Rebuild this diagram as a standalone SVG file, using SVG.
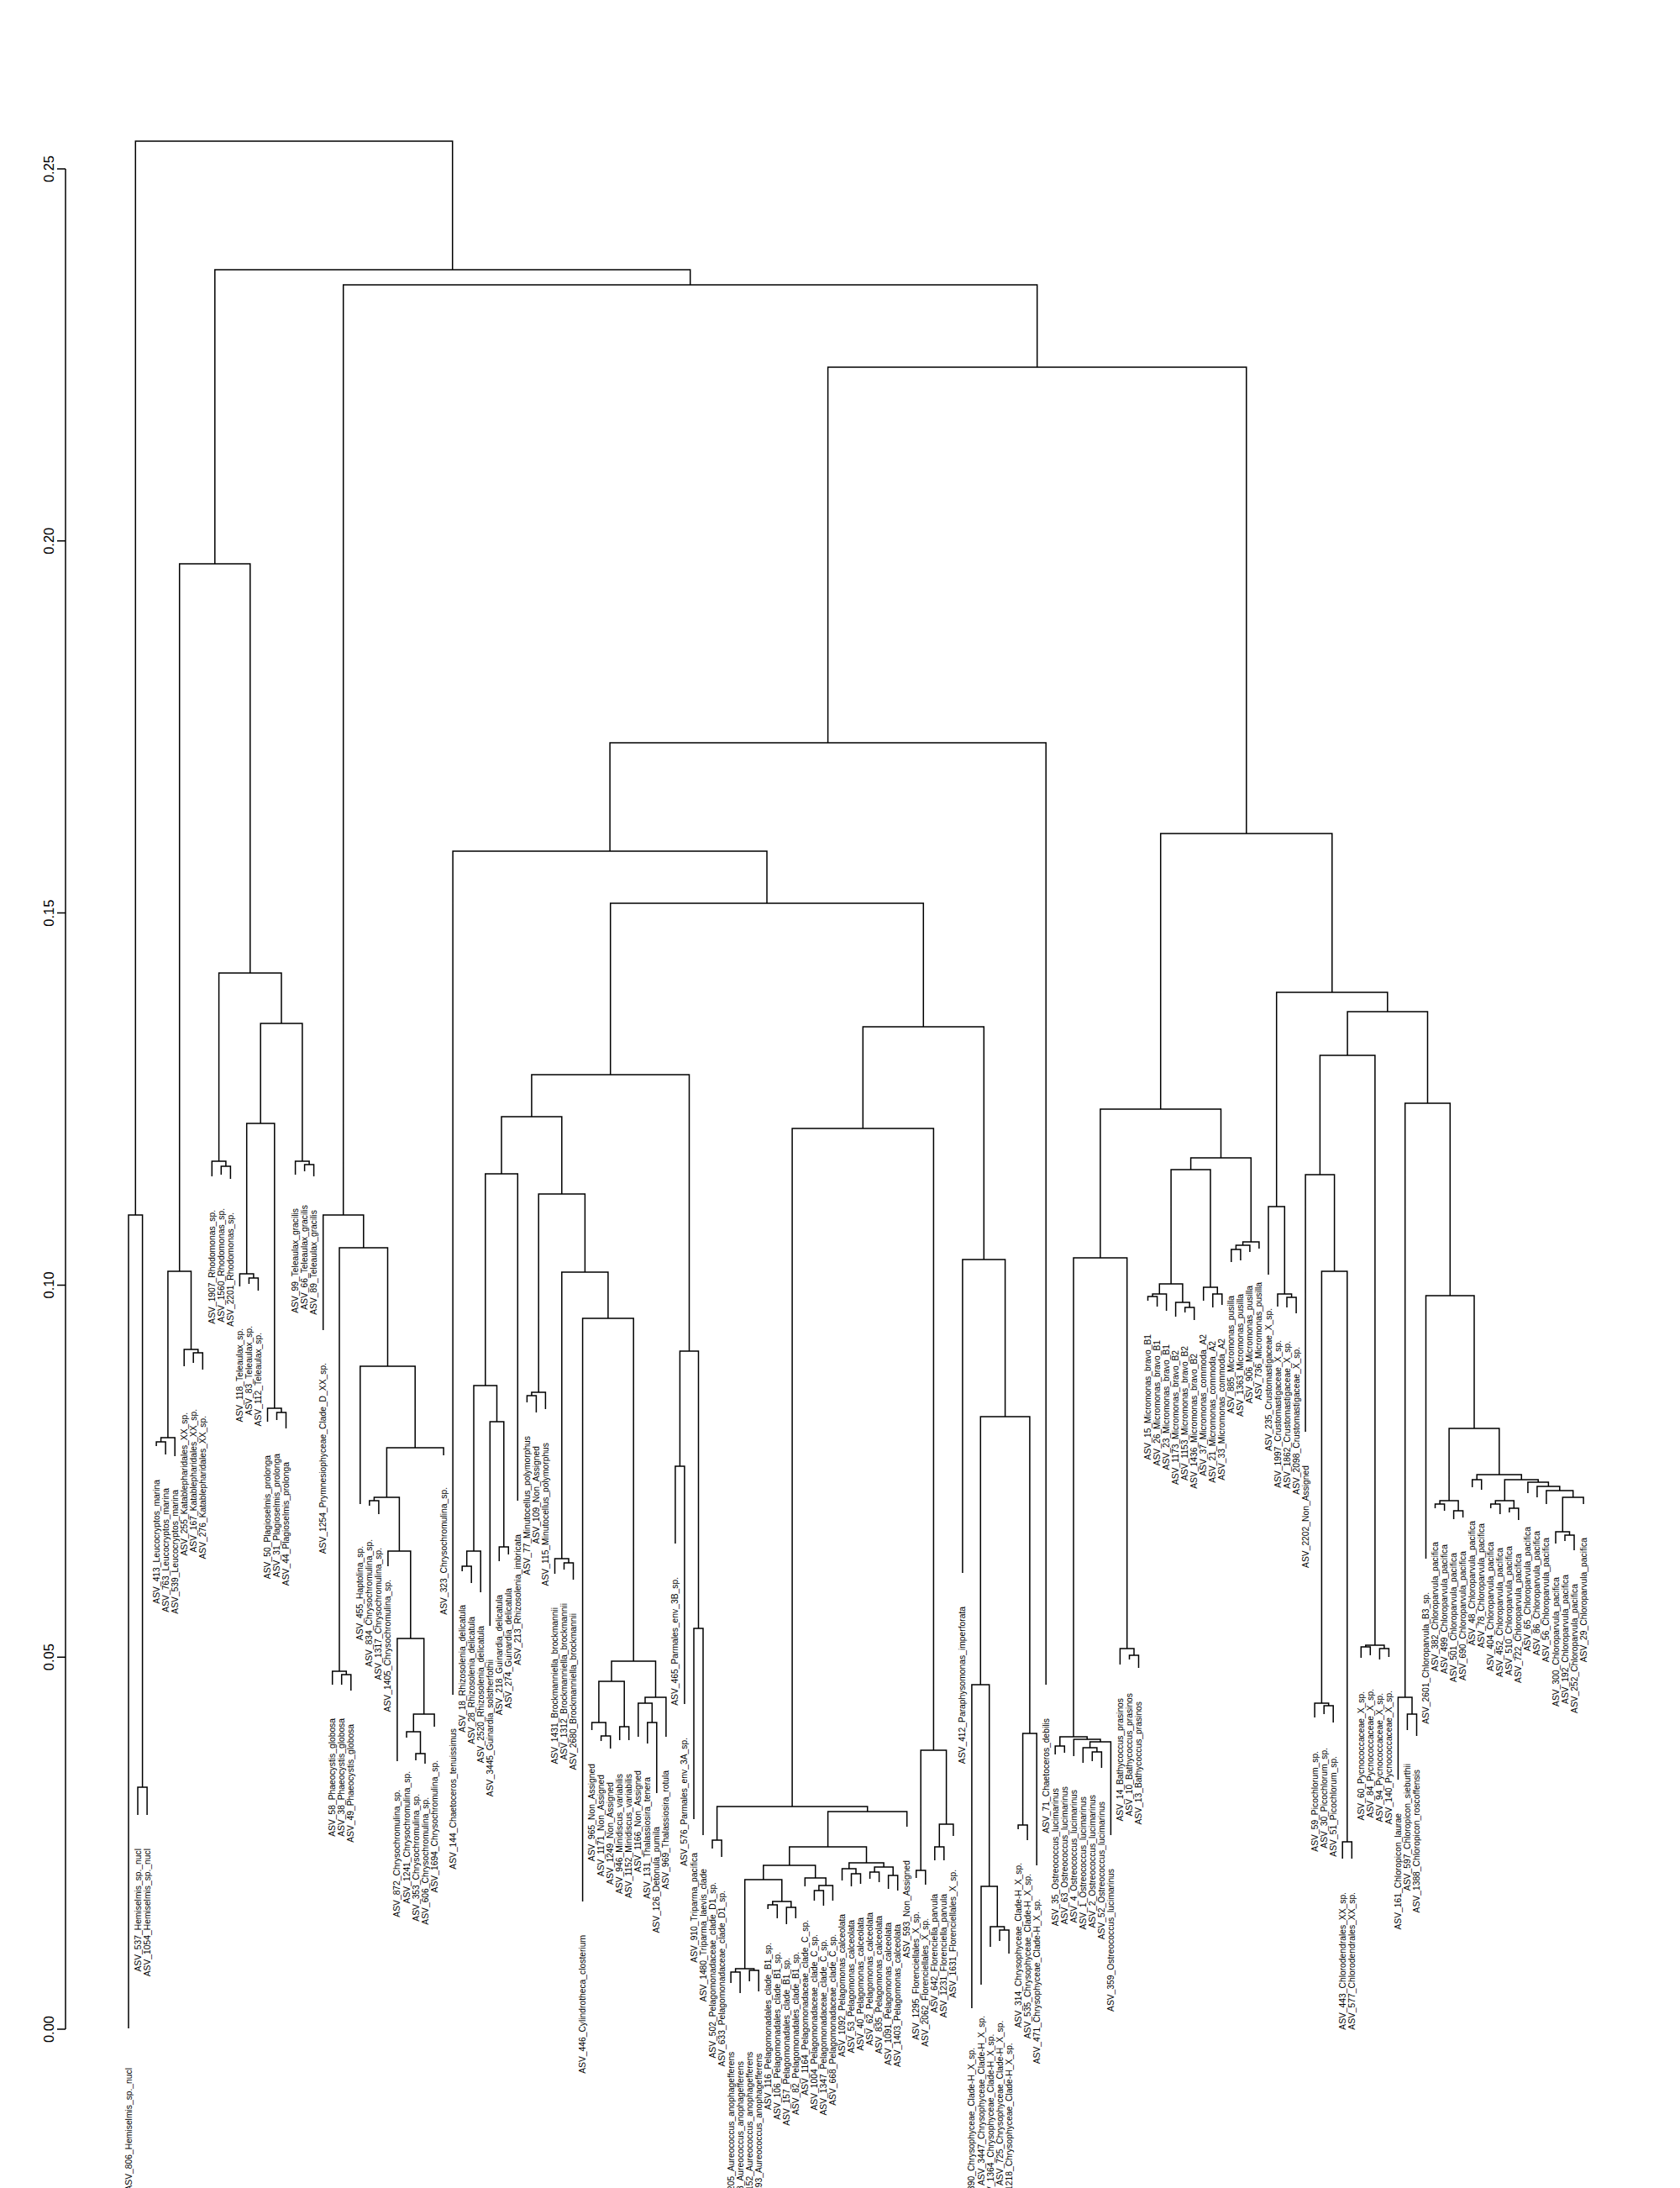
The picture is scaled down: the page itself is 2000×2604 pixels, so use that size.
<svg xmlns="http://www.w3.org/2000/svg" width="2000" height="2604" viewBox="0 0 2000 2604">
<style>
.c{fill:none;stroke:#000;stroke-width:1.5}
.a{fill:none;stroke:#000;stroke-width:1.5}
.l{font-family:"Liberation Sans",Arial,sans-serif;font-size:10.3px;text-anchor:end;dominant-baseline:central;fill:#000}
.s{text-anchor:start}
.t{font-family:"Liberation Sans",Arial,sans-serif;font-size:16.5px;text-anchor:middle;dominant-baseline:central;fill:#000}
</style>
<rect width="2000" height="2604" fill="#fff"/>
<g id="axis">
<path class="a" d="M78,201V2415M68,201H78M68,643.8H78M68,1086.6H78M68,1529.4H78M68,1972.2H78M68,2415H78"/>
<text class="t" transform="translate(58,201) rotate(-90)">0.25</text>
<text class="t" transform="translate(58,643.8) rotate(-90)">0.20</text>
<text class="t" transform="translate(58,1086.6) rotate(-90)">0.15</text>
<text class="t" transform="translate(58,1529.4) rotate(-90)">0.10</text>
<text class="t" transform="translate(58,1972.2) rotate(-90)">0.05</text>
<text class="t" transform="translate(58,2415) rotate(-90)">0.00</text>
</g>
<g id="connectors">
<path class="c" d="M164,2160V2127H175.1V2160M153,2414V1446H169.6V2127M161.3,1446V168H538.7V321M186.1,1721V1716H197.1V1731M191.6,1716V1711H208.2V1733M230.2,1622V1610H241.3V1630M219.2,1626V1606H235.8V1610M199.9,1711V1513H227.5V1606M263.3,1398V1388H274.4V1403M252.3,1400V1382H268.9V1388M296.4,1528V1521H307.4V1536M285.4,1531V1516H301.9V1521M329.5,1690V1681H340.5V1700M318.5,1692V1676H335V1681M293.7,1516V1337H326.8V1676M362.6,1394V1386H373.6V1400M351.6,1398V1382H368.1V1386M310.2,1337V1218H359.9V1382M260.6,1382V1158H335V1218M213.7,1513V671H297.8V1158M406.7,2005V1993H417.8V2012M395.7,2005V1989H412.3V1993M439.8,1792V1786H450.9V1802M495,2095V2087H506V2099M484,2068V2061H500.5V2087M492.3,2061V2040H517.1V2055M472.9,2096V1950H504.7V2040M461.9,1864V1846H488.8V1950M445.4,1786V1782H475.4V1846M460.4,1782V1723H528.1V1732M428.8,1790V1626H494.2V1723M404,1989V1485H461.5V1626M384.7,1583V1446H432.8V1485M408.7,1446V339H1234.7V437M255.8,671V321H821.7V339"/>
<path class="c" d="M550.2,1870V1864H561.2V1884M555.7,1864V1846H572.2V1895M594.3,1858V1841H605.3V1850M583.3,1935V1692H599.8V1841M564,1846V1649H591.5V1692M577.8,1649V1397H616.3V1786M627.4,1669V1661H638.4V1681M632.9,1661V1657H649.4V1677M671.5,1868V1860H682.5V1880M660.5,1873V1855H677V1860M715.6,2072V2066H726.7V2081M704.6,2059V2050H721.2V2066M737.7,2071V2055H748.7V2071M712.9,2050V2001H743.2V2055M770.8,2075V2050H781.8V2134M759.8,2067V2027H776.3V2050M768,2027V2020H792.9V2067M728,2001V1977H780.5V2020M693.6,2263V1569H754.2V1977M668.8,1855V1514H723.9V1569M641.2,1657V1421H696.4V1514M597,1397V1329H668.8V1421M803.9,1837V1745H814.9V2028M826,2165V1938H837V2184M809.4,1745V1608H831.5V1938M632.9,1329V1279H820.5V1608"/>
<path class="c" d="M848,2200V2190H859.1V2210M870.1,2360V2347H881.1V2372M892.2,2358V2345H903.2V2370M875.6,2347V2343H897.7V2345M914.2,2272V2267H925.3V2283M936.3,2290V2270H947.3V2283M919.8,2267V2263H941.8V2270M886.7,2343V2237H930.8V2263M969.4,2262V2250H980.4V2268M974.9,2250V2244H991.4V2262M958.3,2245V2235H983.2V2244M908.8,2237V2220H970.7V2235M1013.5,2245V2230H1024.5V2242M1002.5,2238V2224H1019V2230M1035.6,2236V2228H1046.6V2240M1057.6,2248V2232H1068.7V2250M1041.1,2228V2222H1063.2V2232M1010.8,2224V2217H1052.1V2222M939.8,2220V2198H1031.5V2217M985.6,2198V2156H1079.7V2174M853.6,2190V2150H1032.7V2156M1090.7,2235V2226H1101.8V2243M1112.8,2214V2198H1123.8V2214M1118.3,2198V2171H1134.9V2185M1096.2,2226V2083H1126.6V2171M943.1,2150V1343H1111.4V2083M1190,2310V2297H1201.1V2325M1179,2317V2293H1195.6V2297M1168,2362V2245H1187.3V2293M1156.9,2390V2005H1177.7V2245M1212.1,2177V2172H1223.1V2190M1217.6,2172V2063H1234.2V2220M1167.3,2005V1686H1225.9V2063M1145.9,1872V1499H1196.6V1686M1027.3,1343V1222H1171.3V1499M726.7,1279V1075H1099.3V1222M539.1,2017V1013H913V1075M726.1,1013V884H1245.2V2005"/>
<path class="c" d="M1256.2,2088V2078H1267.3V2086M1300.3,2096V2085H1311.4V2104M1289.3,2098V2080H1305.9V2085M1297.6,2080V2073H1322.4V2184M1278.3,2090V2070H1310V2073M1261.8,2078V2067H1294.2V2070M1344.5,1975V1970H1355.5V1985M1333.4,1981V1962H1350V1970M1278,2067V1497H1341.7V1962M1366.5,1548V1543H1377.6V1555M1372.1,1543V1540H1388.6V1560M1410.7,1562V1556H1421.7V1571M1399.6,1567V1550H1416.2V1556M1380.3,1540V1528H1407.9V1550M1443.8,1556V1540H1454.8V1553M1432.7,1548V1532H1449.3V1540M1394.1,1528V1392H1441V1532M1465.8,1502V1487H1476.9V1500M1471.4,1487V1482H1487.9V1490M1479.6,1482V1478H1498.9V1486M1417.6,1392V1378H1489.3V1478M1309.9,1497V1320H1453.5V1378M1532,1556V1544H1543.1V1563M1521,1555V1540H1537.6V1544M1510,1517V1436H1529.3V1540M1576.2,2040V2030H1587.2V2050M1565.1,2044V2027H1581.7V2030M1598.2,2212V2192H1609.3V2212M1573.4,2027V1513H1603.8V2192M1554.1,1704V1398H1588.6V1513M1620.3,1973V1960H1631.3V1970M1642.4,1975V1962H1653.4V1972M1625.8,1960V1958H1647.9V1962M1571.4,1398V1256H1636.9V1958M1675.4,2059V2040H1686.5V2066M1664.4,2118V2020H1681V2040M1708.5,1795V1790H1719.6V1798M1730.6,1808V1798H1741.6V1806M1714.1,1790V1786H1736.1V1798M1752.7,1770V1761H1763.7V1773M1774.7,1795V1790H1785.8V1802M1796.8,1800V1795H1807.8V1809M1780.3,1790V1786H1802.3V1795M1863,1834V1827H1874V1845M1852,1837V1823H1868.5V1827M1860.3,1823V1782H1885.1V1790M1840.9,1790V1774H1872.7V1782M1829.9,1782V1769H1856.8V1774M1818.9,1777V1764H1843.4V1769M1791.3,1786V1761H1831.2V1764M1758.2,1761V1755H1811.3V1761M1725.1,1786V1700H1784.8V1755M1697.5,1855V1542H1755V1700M1672.7,2020V1313H1726.3V1542M1604.1,1256V1204H1699.5V1313M1519.7,1436V1181H1651.8V1204M1381.7,1320V992H1585.8V1181M985.6,884V437H1483.8V992"/>
</g>
<g id="leaf-1"><text class="l" transform="translate(153,2461) rotate(-90)">ASV_806_Hemiselmis_sp._nucl</text></g>
<g id="leaf-2"><text class="l" transform="translate(164,2200) rotate(-90)">ASV_537_Hemiselmis_sp._nucl</text></g>
<g id="leaf-3"><text class="l" transform="translate(175.1,2200) rotate(-90)">ASV_1054_Hemiselmis_sp._nucl</text></g>
<g id="leaf-4"><text class="l" transform="translate(186.1,1761) rotate(-90)">ASV_413_Leucocryptos_marina</text></g>
<g id="leaf-5"><text class="l" transform="translate(197.1,1771) rotate(-90)">ASV_763_Leucocryptos_marina</text></g>
<g id="leaf-6"><text class="l" transform="translate(208.2,1773) rotate(-90)">ASV_539_Leucocryptos_marina</text></g>
<g id="leaf-7"><text class="l" transform="translate(219.2,1681) rotate(-90)">ASV_255_Katablepharidales_XX_sp.</text></g>
<g id="leaf-8"><text class="l" transform="translate(230.2,1677) rotate(-90)">ASV_167_Katablepharidales_XX_sp.</text></g>
<g id="leaf-9"><text class="l" transform="translate(241.3,1685) rotate(-90)">ASV_276_Katablepharidales_XX_sp.</text></g>
<g id="leaf-10"><text class="l" transform="translate(252.3,1440) rotate(-90)">ASV_1907_Rhodomonas_sp.</text></g>
<g id="leaf-11"><text class="l" transform="translate(263.3,1438) rotate(-90)">ASV_1560_Rhodomonas_sp.</text></g>
<g id="leaf-12"><text class="l" transform="translate(274.4,1443) rotate(-90)">ASV_2201_Rhodomonas_sp.</text></g>
<g id="leaf-13"><text class="l" transform="translate(285.4,1581) rotate(-90)">ASV_118_Teleaulax_sp.</text></g>
<g id="leaf-14"><text class="l" transform="translate(296.4,1578) rotate(-90)">ASV_83_Teleaulax_sp.</text></g>
<g id="leaf-15"><text class="l" transform="translate(307.4,1586) rotate(-90)">ASV_112_Teleaulax_sp.</text></g>
<g id="leaf-16"><text class="l" transform="translate(318.5,1732) rotate(-90)">ASV_50_Plagioselmis_prolonga</text></g>
<g id="leaf-17"><text class="l" transform="translate(329.5,1730) rotate(-90)">ASV_31_Plagioselmis_prolonga</text></g>
<g id="leaf-18"><text class="l" transform="translate(340.5,1740) rotate(-90)">ASV_44_Plagioselmis_prolonga</text></g>
<g id="leaf-19"><text class="l" transform="translate(351.6,1438) rotate(-90)">ASV_99_Teleaulax_gracilis</text></g>
<g id="leaf-20"><text class="l" transform="translate(362.6,1434) rotate(-90)">ASV_66_Teleaulax_gracilis</text></g>
<g id="leaf-21"><text class="l" transform="translate(373.6,1440) rotate(-90)">ASV_89_Teleaulax_gracilis</text></g>
<g id="leaf-22"><text class="l" transform="translate(384.7,1622) rotate(-90)">ASV_1254_Prymnesiophyceae_Clade_D_XX_sp.</text></g>
<g id="leaf-23"><text class="l" transform="translate(395.7,2045) rotate(-90)">ASV_58_Phaeocystis_globosa</text></g>
<g id="leaf-24"><text class="l" transform="translate(406.7,2045) rotate(-90)">ASV_38_Phaeocystis_globosa</text></g>
<g id="leaf-25"><text class="l" transform="translate(417.8,2052) rotate(-90)">ASV_49_Phaeocystis_globosa</text></g>
<g id="leaf-26"><text class="l" transform="translate(428.8,1840) rotate(-90)">ASV_455_Haptolina_sp.</text></g>
<g id="leaf-27"><text class="l" transform="translate(439.8,1832) rotate(-90)">ASV_834_Chrysochromulina_sp.</text></g>
<g id="leaf-28"><text class="l" transform="translate(450.9,1842) rotate(-90)">ASV_1317_Chrysochromulina_sp.</text></g>
<g id="leaf-29"><text class="l" transform="translate(461.9,1880) rotate(-90)">ASV_1405_Chrysochromulina_sp.</text></g>
<g id="leaf-30"><text class="l" transform="translate(472.9,2130) rotate(-90)">ASV_872_Chrysochromulina_sp.</text></g>
<g id="leaf-31"><text class="l" transform="translate(484,2108) rotate(-90)">ASV_1241_Chrysochromulina_sp.</text></g>
<g id="leaf-32"><text class="l" transform="translate(495,2135) rotate(-90)">ASV_353_Chrysochromulina_sp.</text></g>
<g id="leaf-33"><text class="l" transform="translate(506,2139) rotate(-90)">ASV_606_Chrysochromulina_sp.</text></g>
<g id="leaf-34"><text class="l" transform="translate(517.1,2095) rotate(-90)">ASV_1694_Chrysochromulina_sp.</text></g>
<g id="leaf-35"><text class="l" transform="translate(528.1,1770) rotate(-90)">ASV_323_Chrysochromulina_sp.</text></g>
<g id="leaf-36"><text class="l" transform="translate(539.1,2057) rotate(-90)">ASV_144_Chaetoceros_tenuissimus</text></g>
<g id="leaf-37"><text class="l" transform="translate(550.2,1910) rotate(-90)">ASV_18_Rhizosolenia_delicatula</text></g>
<g id="leaf-38"><text class="l" transform="translate(561.2,1924) rotate(-90)">ASV_28_Rhizosolenia_delicatula</text></g>
<g id="leaf-39"><text class="l" transform="translate(572.2,1935) rotate(-90)">ASV_2520_Rhizosolenia_delicatula</text></g>
<g id="leaf-40"><text class="l" transform="translate(583.3,1975) rotate(-90)">ASV_3445_Guinardia_solstherfothii</text></g>
<g id="leaf-41"><text class="l" transform="translate(594.3,1898) rotate(-90)">ASV_218_Guinardia_delicatula</text></g>
<g id="leaf-42"><text class="l" transform="translate(605.3,1890) rotate(-90)">ASV_274_Guinardia_delicatula</text></g>
<g id="leaf-43"><text class="l" transform="translate(616.3,1826) rotate(-90)">ASV_213_Rhizosolenia_imbricata</text></g>
<g id="leaf-44"><text class="l" transform="translate(627.4,1709) rotate(-90)">ASV_77_Minutocellus_polymorphus</text></g>
<g id="leaf-45"><text class="l" transform="translate(638.4,1721) rotate(-90)">ASV_109_Non_Assigned</text></g>
<g id="leaf-46"><text class="l" transform="translate(649.4,1717) rotate(-90)">ASV_115_Minutocellus_polymorphus</text></g>
<g id="leaf-47"><text class="l" transform="translate(660.5,1913) rotate(-90)">ASV_1431_Brockmanniella_brockmannii</text></g>
<g id="leaf-48"><text class="l" transform="translate(671.5,1908) rotate(-90)">ASV_1312_Brockmanniella_brockmannii</text></g>
<g id="leaf-49"><text class="l" transform="translate(682.5,1920) rotate(-90)">ASV_2680_Brockmanniella_brockmannii</text></g>
<g id="leaf-50"><text class="l" transform="translate(693.6,2303) rotate(-90)">ASV_446_Cylindrotheca_closterium</text></g>
<g id="leaf-51"><text class="l" transform="translate(704.6,2099) rotate(-90)">ASV_965_Non_Assigned</text></g>
<g id="leaf-52"><text class="l" transform="translate(715.6,2112) rotate(-90)">ASV_1171_Non_Assigned</text></g>
<g id="leaf-53"><text class="l" transform="translate(726.7,2121) rotate(-90)">ASV_1249_Non_Assigned</text></g>
<g id="leaf-54"><text class="l" transform="translate(737.7,2111) rotate(-90)">ASV_946_Minidiscus_variabilis</text></g>
<g id="leaf-55"><text class="l" transform="translate(748.7,2111) rotate(-90)">ASV_1152_Minidiscus_variabilis</text></g>
<g id="leaf-56"><text class="l" transform="translate(759.8,2107) rotate(-90)">ASV_1166_Non_Assigned</text></g>
<g id="leaf-57"><text class="l" transform="translate(770.8,2115) rotate(-90)">ASV_131_Thalassiosira_tenera</text></g>
<g id="leaf-58"><text class="l" transform="translate(781.8,2174) rotate(-90)">ASV_126_Detonula_pumila</text></g>
<g id="leaf-59"><text class="l" transform="translate(792.9,2107) rotate(-90)">ASV_969_Thalassiosira_rotula</text></g>
<g id="leaf-60"><text class="l" transform="translate(803.9,1877) rotate(-90)">ASV_465_Parmales_env_3B_sp.</text></g>
<g id="leaf-61"><text class="l" transform="translate(814.9,2068) rotate(-90)">ASV_576_Parmales_env_3A_sp.</text></g>
<g id="leaf-62"><text class="l" transform="translate(826,2205) rotate(-90)">ASV_910_Triparma_pacifica</text></g>
<g id="leaf-63"><text class="l" transform="translate(837,2224) rotate(-90)">ASV_1480_Triparma_laevis_clade</text></g>
<g id="leaf-64"><text class="l" transform="translate(848,2240) rotate(-90)">ASV_502_Pelagomonadaceae_clade_D1_sp.</text></g>
<g id="leaf-65"><text class="l" transform="translate(859.1,2250) rotate(-90)">ASV_633_Pelagomonadaceae_clade_D1_sp.</text></g>
<g id="leaf-66"><text class="l s" transform="translate(870.1,2607) rotate(-90)">205_Aureococcus_anophagefferens</text></g>
<g id="leaf-67"><text class="l s" transform="translate(881.1,2607) rotate(-90)">8_Aureococcus_anophagefferens</text></g>
<g id="leaf-68"><text class="l s" transform="translate(892.2,2607) rotate(-90)">152_Aureococcus_anophagefferens</text></g>
<g id="leaf-69"><text class="l s" transform="translate(903.2,2609) rotate(-90)">193_Aureococcus_anophagefferens</text></g>
<g id="leaf-70"><text class="l" transform="translate(914.2,2312) rotate(-90)">ASV_116_Pelagomonadales_clade_B1_sp.</text></g>
<g id="leaf-71"><text class="l" transform="translate(925.3,2323) rotate(-90)">ASV_106_Pelagomonadales_clade_B1_sp.</text></g>
<g id="leaf-72"><text class="l" transform="translate(936.3,2330) rotate(-90)">ASV_157_Pelagomonadales_clade_B1_sp.</text></g>
<g id="leaf-73"><text class="l" transform="translate(947.3,2323) rotate(-90)">ASV_82_Pelagomonadales_clade_B1_sp.</text></g>
<g id="leaf-74"><text class="l" transform="translate(958.3,2285) rotate(-90)">ASV_1164_Pelagomonadaceae_clade_C_sp.</text></g>
<g id="leaf-75"><text class="l" transform="translate(969.4,2302) rotate(-90)">ASV_1004_Pelagomonadaceae_clade_C_sp.</text></g>
<g id="leaf-76"><text class="l" transform="translate(980.4,2308) rotate(-90)">ASV_1347_Pelagomonadaceae_clade_C_sp.</text></g>
<g id="leaf-77"><text class="l" transform="translate(991.4,2302) rotate(-90)">ASV_668_Pelagomonadaceae_clade_C_sp.</text></g>
<g id="leaf-78"><text class="l" transform="translate(1002.5,2278) rotate(-90)">ASV_1092_Pelagomonas_calceolata</text></g>
<g id="leaf-79"><text class="l" transform="translate(1013.5,2285) rotate(-90)">ASV_53_Pelagomonas_calceolata</text></g>
<g id="leaf-80"><text class="l" transform="translate(1024.5,2282) rotate(-90)">ASV_40_Pelagomonas_calceolata</text></g>
<g id="leaf-81"><text class="l" transform="translate(1035.6,2276) rotate(-90)">ASV_62_Pelagomonas_calceolata</text></g>
<g id="leaf-82"><text class="l" transform="translate(1046.6,2280) rotate(-90)">ASV_835_Pelagomonas_calceolata</text></g>
<g id="leaf-83"><text class="l" transform="translate(1057.6,2288) rotate(-90)">ASV_1091_Pelagomonas_calceolata</text></g>
<g id="leaf-84"><text class="l" transform="translate(1068.7,2290) rotate(-90)">ASV_1403_Pelagomonas_calceolata</text></g>
<g id="leaf-85"><text class="l" transform="translate(1079.7,2214) rotate(-90)">ASV_593_Non_Assigned</text></g>
<g id="leaf-86"><text class="l" transform="translate(1090.7,2275) rotate(-90)">ASV_1295_Florenciellales_X_sp.</text></g>
<g id="leaf-87"><text class="l" transform="translate(1101.8,2283) rotate(-90)">ASV_2062_Florenciellales_X_sp.</text></g>
<g id="leaf-88"><text class="l" transform="translate(1112.8,2254) rotate(-90)">ASV_642_Florenciella_parvula</text></g>
<g id="leaf-89"><text class="l" transform="translate(1123.8,2254) rotate(-90)">ASV_1231_Florenciella_parvula</text></g>
<g id="leaf-90"><text class="l" transform="translate(1134.9,2225) rotate(-90)">ASV_1631_Florenciellales_X_sp.</text></g>
<g id="leaf-91"><text class="l" transform="translate(1145.9,1912) rotate(-90)">ASV_412_Paraphysomonas_imperforata</text></g>
<g id="leaf-92"><text class="l s" transform="translate(1156.9,2607) rotate(-90)">390_Chrysophyceae_Clade-H_X_sp.</text></g>
<g id="leaf-93"><text class="l s" transform="translate(1168,2601) rotate(-90)">ASV_3447_Chrysophyceae_Clade-H_X_sp.</text></g>
<g id="leaf-94"><text class="l s" transform="translate(1179,2609) rotate(-90)">V_1364_Chrysophyceae_Clade-H_X_sp.</text></g>
<g id="leaf-95"><text class="l s" transform="translate(1190,2601) rotate(-90)">ASV_725_Chrysophyceae_Clade-H_X_sp.</text></g>
<g id="leaf-96"><text class="l s" transform="translate(1201.1,2607) rotate(-90)">1218_Chrysophyceae_Clade-H_X_sp.</text></g>
<g id="leaf-97"><text class="l" transform="translate(1212.1,2217) rotate(-90)">ASV_314_Chrysophyceae_Clade-H_X_sp.</text></g>
<g id="leaf-98"><text class="l" transform="translate(1223.1,2230) rotate(-90)">ASV_535_Chrysophyceae_Clade-H_X_sp.</text></g>
<g id="leaf-99"><text class="l" transform="translate(1234.2,2260) rotate(-90)">ASV_471_Chrysophyceae_Clade-H_X_sp.</text></g>
<g id="leaf-100"><text class="l" transform="translate(1245.2,2045) rotate(-90)">ASV_71_Chaetoceros_debilis</text></g>
<g id="leaf-101"><text class="l" transform="translate(1256.2,2128) rotate(-90)">ASV_35_Ostreococcus_lucimarinus</text></g>
<g id="leaf-102"><text class="l" transform="translate(1267.3,2126) rotate(-90)">ASV_63_Ostreococcus_lucimarinus</text></g>
<g id="leaf-103"><text class="l" transform="translate(1278.3,2130) rotate(-90)">ASV_4_Ostreococcus_lucimarinus</text></g>
<g id="leaf-104"><text class="l" transform="translate(1289.3,2138) rotate(-90)">ASV_1_Ostreococcus_lucimarinus</text></g>
<g id="leaf-105"><text class="l" transform="translate(1300.3,2136) rotate(-90)">ASV_2_Ostreococcus_lucimarinus</text></g>
<g id="leaf-106"><text class="l" transform="translate(1311.4,2144) rotate(-90)">ASV_52_Ostreococcus_lucimarinus</text></g>
<g id="leaf-107"><text class="l" transform="translate(1322.4,2224) rotate(-90)">ASV_359_Ostreococcus_lucimarinus</text></g>
<g id="leaf-108"><text class="l" transform="translate(1333.4,2021) rotate(-90)">ASV_14_Bathycoccus_prasinos</text></g>
<g id="leaf-109"><text class="l" transform="translate(1344.5,2015) rotate(-90)">ASV_10_Bathycoccus_prasinos</text></g>
<g id="leaf-110"><text class="l" transform="translate(1355.5,2025) rotate(-90)">ASV_13_Bathycoccus_prasinos</text></g>
<g id="leaf-111"><text class="l" transform="translate(1366.5,1588) rotate(-90)">ASV_15_Micromonas_bravo_B1</text></g>
<g id="leaf-112"><text class="l" transform="translate(1377.6,1595) rotate(-90)">ASV_26_Micromonas_bravo_B1</text></g>
<g id="leaf-113"><text class="l" transform="translate(1388.6,1600) rotate(-90)">ASV_23_Micromonas_bravo_B1</text></g>
<g id="leaf-114"><text class="l" transform="translate(1399.6,1607) rotate(-90)">ASV_1173_Micromonas_bravo_B2</text></g>
<g id="leaf-115"><text class="l" transform="translate(1410.7,1602) rotate(-90)">ASV_1153_Micromonas_bravo_B2</text></g>
<g id="leaf-116"><text class="l" transform="translate(1421.7,1611) rotate(-90)">ASV_1436_Micromonas_bravo_B2</text></g>
<g id="leaf-117"><text class="l" transform="translate(1432.7,1588) rotate(-90)">ASV_37_Micromonas_commoda_A2</text></g>
<g id="leaf-118"><text class="l" transform="translate(1443.8,1596) rotate(-90)">ASV_21_Micromonas_commoda_A2</text></g>
<g id="leaf-119"><text class="l" transform="translate(1454.8,1593) rotate(-90)">ASV_33_Micromonas_commoda_A2</text></g>
<g id="leaf-120"><text class="l" transform="translate(1465.8,1542) rotate(-90)">ASV_885_Micromonas_pusilla</text></g>
<g id="leaf-121"><text class="l" transform="translate(1476.9,1540) rotate(-90)">ASV_1363_Micromonas_pusilla</text></g>
<g id="leaf-122"><text class="l" transform="translate(1487.9,1530) rotate(-90)">ASV_906_Micromonas_pusilla</text></g>
<g id="leaf-123"><text class="l" transform="translate(1498.9,1526) rotate(-90)">ASV_736_Micromonas_pusilla</text></g>
<g id="leaf-124"><text class="l" transform="translate(1510,1557) rotate(-90)">ASV_235_Crustomastigaceae_X_sp.</text></g>
<g id="leaf-125"><text class="l" transform="translate(1521,1595) rotate(-90)">ASV_1997_Crustomastigaceae_X_sp.</text></g>
<g id="leaf-126"><text class="l" transform="translate(1532,1596) rotate(-90)">ASV_1862_Crustomastigaceae_X_sp.</text></g>
<g id="leaf-127"><text class="l" transform="translate(1543.1,1603) rotate(-90)">ASV_2098_Crustomastigaceae_X_sp.</text></g>
<g id="leaf-128"><text class="l" transform="translate(1554.1,1744) rotate(-90)">ASV_2202_Non_Assigned</text></g>
<g id="leaf-129"><text class="l" transform="translate(1565.1,2084) rotate(-90)">ASV_59_Picochlorum_sp.</text></g>
<g id="leaf-130"><text class="l" transform="translate(1576.2,2080) rotate(-90)">ASV_30_Picochlorum_sp.</text></g>
<g id="leaf-131"><text class="l" transform="translate(1587.2,2090) rotate(-90)">ASV_51_Picochlorum_sp.</text></g>
<g id="leaf-132"><text class="l" transform="translate(1598.2,2252) rotate(-90)">ASV_443_Chlorodendrales_XX_sp.</text></g>
<g id="leaf-133"><text class="l" transform="translate(1609.3,2252) rotate(-90)">ASV_577_Chlorodendrales_XX_sp.</text></g>
<g id="leaf-134"><text class="l" transform="translate(1620.3,2013) rotate(-90)">ASV_60_Pycnococcaceae_X_sp.</text></g>
<g id="leaf-135"><text class="l" transform="translate(1631.3,2010) rotate(-90)">ASV_84_Pycnococcaceae_X_sp.</text></g>
<g id="leaf-136"><text class="l" transform="translate(1642.4,2015) rotate(-90)">ASV_94_Pycnococcaceae_X_sp.</text></g>
<g id="leaf-137"><text class="l" transform="translate(1653.4,2012) rotate(-90)">ASV_140_Pycnococcaceae_X_sp.</text></g>
<g id="leaf-138"><text class="l" transform="translate(1664.4,2158) rotate(-90)">ASV_161_Chloropicon_laurae</text></g>
<g id="leaf-139"><text class="l" transform="translate(1675.4,2099) rotate(-90)">ASV_597_Chloropicon_sieburthii</text></g>
<g id="leaf-140"><text class="l" transform="translate(1686.5,2106) rotate(-90)">ASV_1388_Chloropicon_roscoffensis</text></g>
<g id="leaf-141"><text class="l" transform="translate(1697.5,1895) rotate(-90)">ASV_2601_Chloroparvula_B3_sp.</text></g>
<g id="leaf-142"><text class="l" transform="translate(1708.5,1835) rotate(-90)">ASV_382_Chloroparvula_pacifica</text></g>
<g id="leaf-143"><text class="l" transform="translate(1719.6,1838) rotate(-90)">ASV_499_Chloroparvula_pacifica</text></g>
<g id="leaf-144"><text class="l" transform="translate(1730.6,1848) rotate(-90)">ASV_501_Chloroparvula_pacifica</text></g>
<g id="leaf-145"><text class="l" transform="translate(1741.6,1846) rotate(-90)">ASV_690_Chloroparvula_pacifica</text></g>
<g id="leaf-146"><text class="l" transform="translate(1752.7,1810) rotate(-90)">ASV_48_Chloroparvula_pacifica</text></g>
<g id="leaf-147"><text class="l" transform="translate(1763.7,1813) rotate(-90)">ASV_78_Chloroparvula_pacifica</text></g>
<g id="leaf-148"><text class="l" transform="translate(1774.7,1835) rotate(-90)">ASV_404_Chloroparvula_pacifica</text></g>
<g id="leaf-149"><text class="l" transform="translate(1785.8,1842) rotate(-90)">ASV_452_Chloroparvula_pacifica</text></g>
<g id="leaf-150"><text class="l" transform="translate(1796.8,1840) rotate(-90)">ASV_510_Chloroparvula_pacifica</text></g>
<g id="leaf-151"><text class="l" transform="translate(1807.8,1849) rotate(-90)">ASV_722_Chloroparvula_pacifica</text></g>
<g id="leaf-152"><text class="l" transform="translate(1818.9,1817) rotate(-90)">ASV_65_Chloroparvula_pacifica</text></g>
<g id="leaf-153"><text class="l" transform="translate(1829.9,1822) rotate(-90)">ASV_86_Chloroparvula_pacifica</text></g>
<g id="leaf-154"><text class="l" transform="translate(1840.9,1830) rotate(-90)">ASV_56_Chloroparvula_pacifica</text></g>
<g id="leaf-155"><text class="l" transform="translate(1852,1877) rotate(-90)">ASV_300_Chloroparvula_pacifica</text></g>
<g id="leaf-156"><text class="l" transform="translate(1863,1874) rotate(-90)">ASV_192_Chloroparvula_pacifica</text></g>
<g id="leaf-157"><text class="l" transform="translate(1874,1885) rotate(-90)">ASV_252_Chloroparvula_pacifica</text></g>
<g id="leaf-158"><text class="l" transform="translate(1885.1,1830) rotate(-90)">ASV_29_Chloroparvula_pacifica</text></g>
</svg>
